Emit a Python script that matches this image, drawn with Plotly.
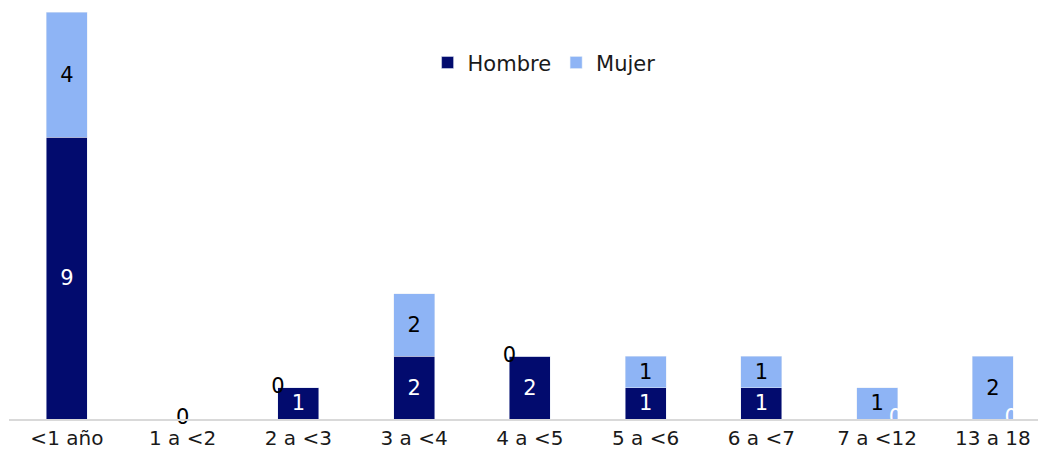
import plotly.graph_objects as go

categorias = ["<1 año", "1 a <2", "2 a <3", "3 a <4", "4 a <5", "5 a <6", "6 a <7", "7 a <12", "13 a 18"]
hombre = [9, 0, 1, 2, 2, 1, 1, 0, 0]
mujer = [4, 0, 0, 2, 0, 1, 1, 1, 2]

c_hombre = "#020B6E"
c_mujer = "#8EB4F5"
ancho = 0.355
fuente = "DejaVu Sans"

fig = go.Figure()
fig.add_bar(x=list(range(len(categorias))), y=hombre, name="Hombre", marker_color=c_hombre,
            width=ancho, text=[str(v) if v else "" for v in hombre],
            textposition="inside", insidetextanchor="middle", textangle=0,
            textfont=dict(color="white", size=21, family=fuente))
fig.add_bar(x=list(range(len(categorias))), y=mujer, name="Mujer", marker_color=c_mujer,
            width=ancho, text=[str(v) if v else "" for v in mujer],
            textposition="inside", insidetextanchor="middle", textangle=0,
            textfont=dict(color="black", size=21, family=fuente))

# etiquetas de ceros, como en el original
zx, zy, zc = [], [], []
for i, (h, m) in enumerate(zip(hombre, mujer)):
    if h == 0 and m == 0:
        zx.append(i); zy.append(0); zc.append("black")
    else:
        if m == 0:
            zx.append(i - ancho / 2); zy.append(h); zc.append("black")
        if h == 0:
            zx.append(i + ancho / 2 - 0.02); zy.append(0); zc.append("white")
fig.add_scatter(x=zx, y=zy, mode="text", text=["0"] * len(zx), showlegend=False,
                textfont=dict(color=zc, size=21, family=fuente), cliponaxis=False,
                hoverinfo="skip")

fig.update_layout(
    barmode="stack",
    width=1038, height=459,
    margin=dict(l=9, r=0, t=12, b=40),
    plot_bgcolor="white", paper_bgcolor="white",
    font=dict(family=fuente, size=20, color="#1a1a1a"),
    legend=dict(orientation="h", x=0.52, y=0.875, xanchor="center", yanchor="middle",
                font=dict(size=21), itemwidth=30, traceorder="normal"),
    xaxis=dict(tickvals=list(range(len(categorias))), ticktext=categorias, range=[-0.5, 8.39],
               showline=True, linecolor="#D9D9D9", linewidth=2, ticks="", showgrid=False,
               tickfont=dict(size=20)),
    yaxis=dict(range=[0, 13], visible=False, showgrid=False),
)

fig.write_html("out.html", config={"displayModeBar": False},
               post_script="document.body.style.margin='0';document.body.style.overflow='hidden';")
